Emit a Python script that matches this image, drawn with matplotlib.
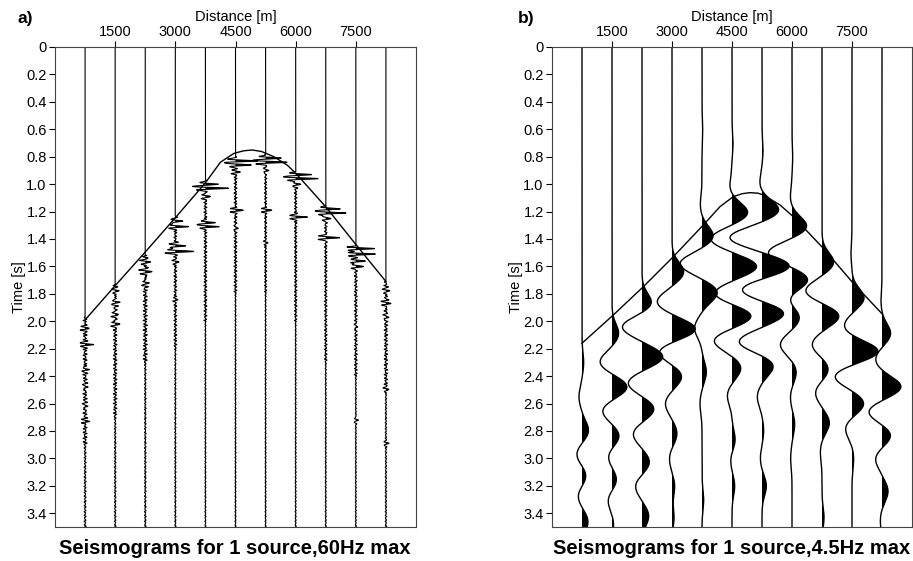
import numpy as np
import matplotlib.pyplot as plt

plt.rcParams['font.family'] = ['Liberation Sans', 'DejaVu Sans']

# receiver positions (m) and time axis ticks
offsets = [750, 1500, 2250, 3000, 3750, 4500, 5250, 6000, 6750, 7500, 8250]
x_ticks = [1500, 3000, 4500, 6000, 7500]
y_ticks = [0, 0.2, 0.4, 0.6, 0.8, 1.0, 1.2, 1.4, 1.6, 1.8, 2.0, 2.2, 2.4, 2.6, 2.8, 3.0, 3.2, 3.4]
y_labels = ["0", "0.2", "0.4", "0.6", "0.8", "1.0", "1.2", "1.4", "1.6", "1.8", "2.0",
            "2.2", "2.4", "2.6", "2.8", "3.0", "3.2", "3.4"]

# first-arrival curves (distance m, time s)
a_curve_x = [750, 1500, 2250, 3000, 3750, 4125, 4458, 4700, 4917, 5150, 5458, 5792, 6000, 6750, 7500, 8250]
a_curve_t = [1.99, 1.74, 1.495, 1.245, 0.99, 0.84, 0.776, 0.757, 0.751, 0.762, 0.80, 0.862, 0.92, 1.165, 1.44, 1.71]
b_curve_x = [750, 1533, 2283, 3033, 3783, 4200, 4533, 4750, 4950, 5150, 5283, 5700, 6033, 6783, 7533, 8250]
b_curve_t = [2.16, 1.954, 1.748, 1.529, 1.298, 1.164, 1.091, 1.07, 1.062, 1.066, 1.079, 1.152, 1.237, 1.468, 1.723, 1.945]

# 60 Hz panel: bursts (time s, amplitude in trace spacings, width s) per trace
a_bursts = [
    [(2.05, 0.12, 0.02), (2.17, 0.22, 0.015), (2.35, 0.1, 0.02), (2.48, 0.1, 0.02), (2.62, 0.1, 0.02), (2.73, 0.12, 0.015)],
    [(1.78, 0.12, 0.02), (1.86, 0.14, 0.02), (1.95, 0.15, 0.02), (2.02, 0.2, 0.015)],
    [(1.57, 0.18, 0.02), (1.64, 0.23, 0.02), (1.72, 0.12, 0.02)],
    [(1.27, 0.25, 0.015), (1.31, 0.4, 0.012), (1.45, 0.3, 0.015), (1.49, 0.6, 0.012), (1.57, 0.12, 0.015), (1.84, 0.06, 0.015)],
    [(1.0, 0.4, 0.012), (1.03, 0.7, 0.01), (1.09, 0.2, 0.015), (1.28, 0.3, 0.012), (1.31, 0.4, 0.01)],
    [(0.83, 0.75, 0.01), (0.86, 0.5, 0.01), (0.91, 0.15, 0.015), (1.19, 0.25, 0.012), (1.32, 0.12, 0.012)],
    [(0.81, 0.55, 0.01), (0.84, 0.7, 0.01), (0.9, 0.12, 0.015), (1.19, 0.2, 0.012), (1.43, 0.08, 0.012)],
    [(0.93, 0.5, 0.01), (0.96, 0.7, 0.01), (1.0, 0.15, 0.015), (1.24, 0.35, 0.012)],
    [(1.18, 0.5, 0.01), (1.21, 0.65, 0.01), (1.25, 0.2, 0.015), (1.39, 0.5, 0.012)],
    [(1.47, 0.6, 0.01), (1.51, 0.65, 0.01), (1.56, 0.3, 0.012), (1.60, 0.3, 0.012), (2.04, 0.08, 0.015), (2.72, 0.08, 0.015)],
    [(1.78, 0.12, 0.02), (1.87, 0.15, 0.02), (1.97, 0.12, 0.02), (2.5, 0.08, 0.015), (2.89, 0.08, 0.015)],
]
# coda windows (start s, end s, amplitude)
a_coda = [
    [(1.97, 2.9, 0.07), (2.9, 3.5, 0.035)],
    [(1.73, 2.7, 0.06), (2.7, 3.5, 0.03)],
    [(1.52, 2.3, 0.07), (2.3, 3.5, 0.03)],
    [(1.24, 2.2, 0.05), (2.2, 3.5, 0.025)],
    [(0.98, 2.0, 0.05), (2.0, 3.5, 0.02)],
    [(0.8, 1.8, 0.05), (1.8, 3.5, 0.02)],
    [(0.78, 1.8, 0.04), (1.8, 3.5, 0.02)],
    [(0.92, 2.0, 0.045), (2.0, 3.5, 0.02)],
    [(1.16, 2.3, 0.045), (2.3, 3.5, 0.02)],
    [(1.44, 2.4, 0.05), (2.4, 3.5, 0.02)],
    [(1.71, 2.5, 0.06), (2.5, 3.5, 0.025)],
]

# 4.5 Hz panel: peaks (+) and troughs (-) per trace (time s, amplitude in trace spacings)
b_peaks = [
    [(2.3, 0.05), (2.55, -0.09), (2.8, 0.2), (2.97, -0.17), (3.13, 0.14), (3.27, -0.13), (3.46, 0.18)],
    [(2.09, 0.2), (2.30, -0.37), (2.48, 0.47), (2.65, -0.3), (2.84, 0.23), (2.98, -0.13), (3.16, 0.15), (3.3, -0.13), (3.48, 0.05)],
    [(1.87, 0.3), (2.04, -0.6), (2.26, 0.63), (2.45, -0.43), (2.64, 0.37), (2.82, -0.27), (3.03, 0.23), (3.2, -0.2), (3.42, 0.2)],
    [(1.64, 0.35), (1.86, -0.45), (2.06, 0.73), (2.22, -0.43), (2.40, 0.3), (2.60, -0.2), (2.82, 0.15), (3.0, -0.08), (3.2, 0.08), (3.43, 0.06)],
    [(0.6, 0.02), (1.15, -0.05), (1.38, 0.34), (1.58, -0.66), (1.79, 0.46), (2.05, -0.22), (2.37, 0.13), (2.6, -0.06), (3.3, 0.05)],
    [(0.7, 0.03), (1.02, -0.07), (1.21, 0.48), (1.40, -0.65), (1.60, 0.75), (1.80, -0.55), (1.96, 0.62), (2.14, -0.55), (2.34, 0.27), (2.54, -0.14), (2.87, 0.1), (3.0, -0.05), (3.2, 0.08)],
    [(0.75, 0.03), (1.0, -0.07), (1.19, 0.51), (1.39, -0.97), (1.60, 0.85), (1.77, -0.66), (1.94, 0.68), (2.15, -0.7), (2.32, 0.36), (2.55, -0.14), (2.8, 0.05), (3.0, -0.05), (3.2, 0.13)],
    [(0.8, 0.02), (1.1, -0.05), (1.31, 0.45), (1.50, -0.72), (1.70, 0.5), (1.83, -0.15), (1.97, 0.24), (2.17, -0.35), (2.37, 0.13), (2.55, -0.05), (2.75, 0.08), (3.0, -0.04)],
    [(1.57, 0.35), (1.78, -0.5), (1.96, 0.52), (2.17, -0.3), (2.35, 0.2), (2.52, -0.2), (2.74, 0.22), (2.95, -0.05), (3.43, 0.06)],
    [(1.5, -0.03), (1.83, 0.36), (2.04, -0.25), (2.22, 0.8), (2.40, -0.53), (2.60, 0.36), (2.78, -0.2), (3.0, 0.05)],
    [(1.85, -0.03), (2.09, 0.26), (2.28, -0.2), (2.48, 0.58), (2.66, -0.42), (2.83, 0.28), (3.0, -0.2), (3.24, 0.18), (3.45, -0.05)],
]

spacing = 750
gain_b = 1.12
t = np.arange(0, 3.5, 0.0005)


def wiggle_a(bursts, coda):
    w = np.zeros_like(t)
    for t0, amp, width in bursts:
        w += amp * np.cos(2 * np.pi * 34 * (t - t0)) * np.exp(-0.5 * ((t - t0) / width) ** 2)
    for t1, t2, amp in coda:
        inside = (t >= t1) & (t < t2)
        w[inside] += amp * (0.6 * np.sin(2 * np.pi * 43 * t[inside]) + 0.4 * np.sin(2 * np.pi * 71 * t[inside] + 1.3))
    return w


def wiggle_b(peaks):
    w = np.zeros_like(t)
    for t0, amp in peaks:
        w += gain_b * amp * np.exp(-0.5 * ((t - t0) / 0.07) ** 2)
    return w


def style(ax):
    ax.set_xlim(0, 9000)
    ax.set_ylim(3.5, 0)
    ax.xaxis.tick_top()
    ax.xaxis.set_label_position('top')
    ax.set_xticks(x_ticks)
    ax.set_xticklabels([str(v) for v in x_ticks])
    ax.set_yticks(y_ticks)
    ax.set_yticklabels(y_labels)
    ax.tick_params(direction='out', length=4, width=0.8, labelsize=10.5, pad=2)
    ax.set_xlabel('Distance [m]', fontsize=10.5, labelpad=3)
    ax.set_ylabel('Time [s]', fontsize=10.5, labelpad=0)
    for s in ax.spines.values():
        s.set_linewidth(0.8)
        s.set_color('#444444')


fig = plt.figure(figsize=(9.13, 5.61), dpi=100)
ax1 = fig.add_axes([55 / 913, 1 - 527 / 561, 361 / 913, 480 / 561])
ax2 = fig.add_axes([552 / 913, 1 - 527 / 561, 360 / 913, 480 / 561])

for i, x0 in enumerate(offsets):
    w = wiggle_a(a_bursts[i], a_coda[i])
    ax1.fill_betweenx(t, x0, x0 + spacing * w, where=w > 0, interpolate=True, color='k', lw=0)
    ax1.plot(x0 + spacing * w, t, color='k', lw=0.8)
ax1.plot(a_curve_x, a_curve_t, color='k', lw=1.0)

for i, x0 in enumerate(offsets):
    w = wiggle_b(b_peaks[i])
    ax2.fill_betweenx(t, x0, x0 + spacing * w, where=w > 0, interpolate=True, color='k', lw=0)
    ax2.plot(x0 + spacing * w, t, color='k', lw=1.0)
ax2.plot(b_curve_x, b_curve_t, color='k', lw=1.0)

style(ax1)
style(ax2)

fig.text(17 / 913, 1 - 19 / 561, 'a)', fontsize=12.5, fontweight='bold', va='center')
fig.text(518 / 913, 1 - 19 / 561, 'b)', fontsize=12.5, fontweight='bold', va='center')
fig.text(235 / 913, 1 - 548 / 561, 'Seismograms for 1 source,60Hz max', fontsize=14.5,
         fontweight='bold', ha='center', va='center')
fig.text(732 / 913, 1 - 548 / 561, 'Seismograms for 1 source,4.5Hz max', fontsize=14.5,
         fontweight='bold', ha='center', va='center')

fig.savefig('out.png', dpi=100)
